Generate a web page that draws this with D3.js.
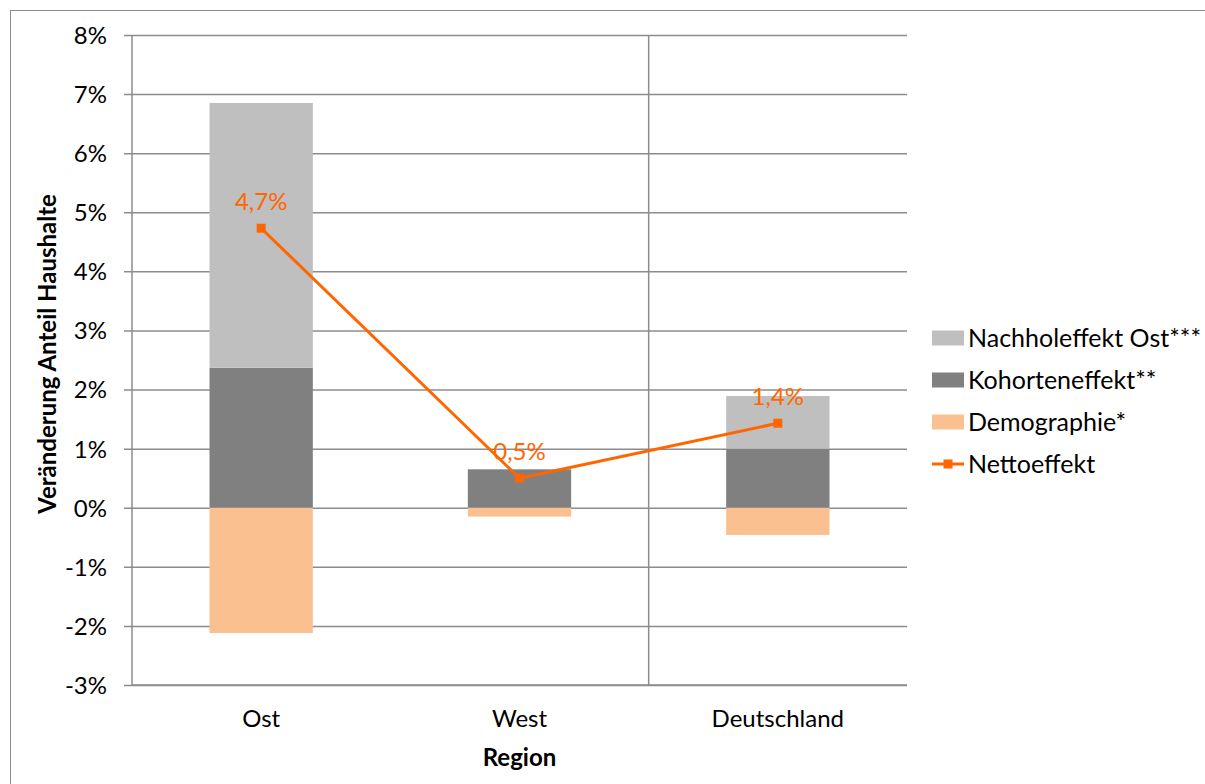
<!DOCTYPE html>
<html>
<head>
<meta charset="utf-8">
<script src="https://cdn.jsdelivr.net/npm/d3@7"></script>
<style>
  body { margin: 0; background: #fff; }
  text { font-family: Lato, "Liberation Sans", sans-serif; fill: #000; }
  .axis-title { font-weight: bold; }
</style>
</head>
<body>
<svg id="chart"></svg>
<script>
// data
const regions = ['Ost', 'West', 'Deutschland'];
const demographie = [-2.12, -0.15, -0.46];
const kohorten = [2.37, 0.65, 1.00];
const nachhol = [4.48, 0, 0.89];
const netto = [4.73, 0.50, 1.43];
const nettoLabels = ['4,7%', '0,5%', '1,4%'];
const yTicks = [-3, -2, -1, 0, 1, 2, 3, 4, 5, 6, 7, 8];
const seriesNames = ['Nachholeffekt Ost***', 'Kohorteneffekt**', 'Demographie*', 'Nettoeffekt'];

const colors = {
  nachhol: '#bfbfbf',
  kohorten: '#808080',
  demo: '#fac090',
  netto: '#ff6600'
};

const width = 1205, height = 784;
const margin = {top: 35, right: 298, bottom: 99, left: 132};
const innerW = width - margin.left - margin.right;
const innerH = height - margin.top - margin.bottom;

const svg = d3.select('#chart')
    .attr('width', width)
    .attr('height', height);

// outer chart border
svg.append('rect')
    .attr('x', 10.5).attr('y', 10.5)
    .attr('width', 1205).attr('height', 800)
    .attr('fill', 'none')
    .attr('stroke', '#8c8c8c')
    .attr('stroke-width', 1);

const chart = svg.append('g')
    .attr('transform', `translate(${margin.left},${margin.top})`);

const x = d3.scaleBand()
    .domain(regions)
    .range([0, innerW])
    .paddingInner(0)
    .paddingOuter(0);

const y = d3.scaleLinear()
    .domain([-3, 8])
    .range([innerH, 0]);

// horizontal gridlines with tick marks extending left
const yAxis = d3.axisLeft(y)
    .tickValues(yTicks)
    .tickSize(-innerW)
    .tickSizeOuter(0)
    .tickPadding(0)
    .tickFormat(d => d + '%');

const yAxisG = chart.append('g')
    .attr('class', 'axis y-axis')
    .call(yAxis);
yAxisG.select('.domain').remove();
yAxisG.selectAll('.tick line')
    .attr('x1', -8)
    .attr('stroke', '#8c8c8c')
    .attr('stroke-width', 1.5);
yAxisG.selectAll('.tick text')
    .attr('x', -25)
    .attr('dy', '0.35em')
    .style('font-family', 'Lato, sans-serif')
    .style('font-size', '24px');

// left axis line and the vertical divider
chart.append('line')
    .attr('x1', 0).attr('x2', 0)
    .attr('y1', 0).attr('y2', innerH)
    .attr('stroke', '#8c8c8c').attr('stroke-width', 1.5);
chart.append('line')
    .attr('x1', x('Deutschland')).attr('x2', x('Deutschland'))
    .attr('y1', 0).attr('y2', innerH)
    .attr('stroke', '#8c8c8c').attr('stroke-width', 1.5);

// stacked bars
const barW = x.bandwidth() * 0.4;
const stacks = regions.map((r, i) => ({
  region: r,
  parts: [
    {y0: demographie[i], y1: 0, color: colors.demo},
    {y0: 0, y1: kohorten[i], color: colors.kohorten},
    {y0: kohorten[i], y1: kohorten[i] + nachhol[i], color: colors.nachhol}
  ]
}));

const barG = chart.selectAll('.bar-group')
    .data(stacks)
    .join('g')
    .attr('class', 'bar-group');

barG.selectAll('rect')
    .data(d => d.parts.map(p => ({...p, region: d.region})))
    .join('rect')
    .attr('x', d => x(d.region) + (x.bandwidth() - barW) / 2)
    .attr('width', barW)
    .attr('y', d => y(Math.max(d.y0, d.y1)))
    .attr('height', d => Math.abs(y(d.y0) - y(d.y1)))
    .attr('fill', d => d.color);

// net effect line
const cx = r => x(r) + x.bandwidth() / 2;
chart.append('path')
    .datum(netto)
    .attr('fill', 'none')
    .attr('stroke', colors.netto)
    .attr('stroke-width', 3)
    .attr('stroke-linejoin', 'round')
    .attr('d', d3.line()
        .x((d, i) => cx(regions[i]))
        .y(d => y(d)));

chart.selectAll('.net-point')
    .data(netto)
    .join('rect')
    .attr('class', 'net-point')
    .attr('x', (d, i) => cx(regions[i]) - 4.5)
    .attr('y', d => y(d) - 4.5)
    .attr('width', 9).attr('height', 9)
    .attr('fill', colors.netto);

chart.selectAll('.net-label')
    .data(netto)
    .join('text')
    .attr('class', 'net-label')
    .attr('x', (d, i) => cx(regions[i]))
    .attr('y', d => y(d) - 27)
    .attr('dy', '0.35em')
    .style('text-anchor', 'middle')
    .style('font-size', '24px')
    .style('fill', colors.netto)
    .text((d, i) => nettoLabels[i]);

// x axis (bottom line + category labels)
chart.append('line')
    .attr('x1', 0).attr('x2', innerW)
    .attr('y1', innerH).attr('y2', innerH)
    .attr('stroke', '#8c8c8c').attr('stroke-width', 1.5);

chart.selectAll('.x-label')
    .data(regions)
    .join('text')
    .attr('class', 'x-label')
    .attr('x', d => cx(d))
    .attr('y', innerH + 34)
    .attr('dy', '0.35em')
    .style('text-anchor', 'middle')
    .style('font-size', '24px')
    .text(d => d);

// axis titles
chart.append('text')
    .attr('class', 'axis-title')
    .attr('x', innerW / 2)
    .attr('y', innerH + 73)
    .attr('dy', '0.35em')
    .style('text-anchor', 'middle')
    .style('font-size', '24px')
    .text('Region');

chart.append('text')
    .attr('class', 'axis-title')
    .attr('transform', `translate(${48 - margin.left},${354 - margin.top}) rotate(-90)`)
    .attr('dy', '0.35em')
    .style('text-anchor', 'middle')
    .style('font-size', '24px')
    .text('Veränderung Anteil Haushalte');

// legend
const legend = svg.append('g')
    .attr('transform', 'translate(932,338)');
const legendItems = legend.selectAll('.legend-item')
    .data(seriesNames)
    .join('g')
    .attr('class', 'legend-item')
    .attr('transform', (d, i) => `translate(0,${i * 42})`);

legendItems.filter((d, i) => i < 3)
    .append('rect')
    .attr('x', 0).attr('y', -7.5)
    .attr('width', 32).attr('height', 15)
    .attr('fill', (d, i) => [colors.nachhol, colors.kohorten, colors.demo][i]);

const netItem = legendItems.filter((d, i) => i === 3);
netItem.append('line')
    .attr('x1', 0).attr('x2', 32)
    .attr('y1', 0).attr('y2', 0)
    .attr('stroke', colors.netto).attr('stroke-width', 3);
netItem.append('rect')
    .attr('x', 11.5).attr('y', -4.5)
    .attr('width', 9).attr('height', 9)
    .attr('fill', colors.netto);

legendItems.append('text')
    .attr('x', 36)
    .attr('dy', '0.35em')
    .style('font-size', '25px')
    .text(d => d);
</script>
</body>
</html>
